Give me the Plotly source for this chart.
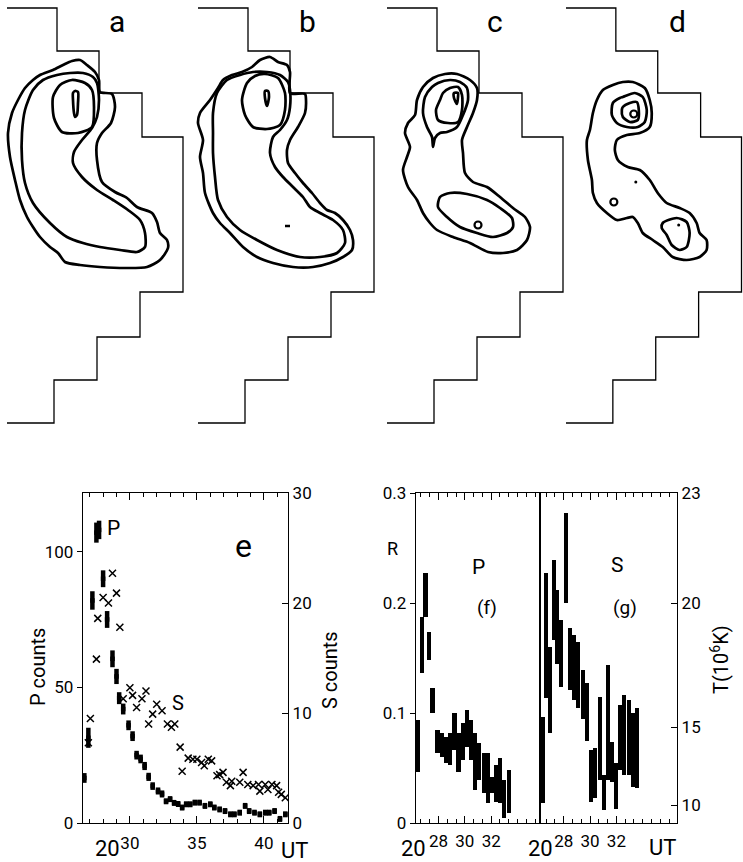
import plotly.graph_objects as go

FIG_W, FIG_H = 743, 862
FONT = "Liberation Sans Narrow, Roboto, Liberation Sans, sans-serif"

# ---------------- top row: images a-d (local panel units) ----------------
PANEL_LABELS = ["a", "b", "c", "d"]
PANEL_OFFSETS = [0, 191, 380, 559]

# edge of the field of view (staircase)
STAIR_X = [7, 57, 57, 99, 99, 142, 142, 183, 183, 140, 140, 97, 97, 54, 54, 7]
STAIR_Y = [8, 8, 51, 51, 93, 93, 137, 137, 292, 292, 337, 337, 380, 380, 423, 423]

A_OUTER = [(99, 80), (100, 92), (112, 94), (115, 107), (111, 123), (102, 133), (97, 143), (97, 160),
           (102, 182), (115, 192), (127, 198), (137, 207), (152, 213), (157, 222), (160, 233), (167, 240),
           (168, 248), (160, 260), (147, 267), (127, 268), (100, 267), (80, 265), (65, 262), (58, 253),
           (50, 247), (40, 237), (33, 227), (27, 217), (20, 200), (15, 180), (10, 157), (8, 133), (12, 113),
           (18, 100), (25, 88), (33, 80), (40, 75), (53, 70), (63, 65), (72, 61), (80, 60), (87, 65),
           (95, 72), (99, 80)]
A_MIDDLE = [(97, 83), (99, 100), (97, 117), (92, 128), (82, 140), (74, 152), (73, 163), (82, 177),
            (97, 190), (113, 200), (128, 210), (140, 220), (145, 233), (145, 247), (137, 252), (120, 250),
            (100, 247), (83, 243), (67, 237), (50, 223), (33, 203), (25, 183), (22, 160), (22, 133),
            (25, 110), (33, 90), (43, 80), (57, 75), (70, 73), (83, 73), (93, 77), (97, 83)]
A_INNER = [(72, 80), (85, 83), (92, 90), (94, 107), (92, 127), (78, 133), (62, 132), (54, 118),
           (53, 97), (60, 85), (72, 80)]
A_CORE = [(75, 91), (78, 92), (78, 103), (77, 115), (75, 117), (74, 113), (73, 100), (73, 93), (75, 91)]

B_OUTER = [(99, 93), (99, 72), (96, 65), (87, 62), (79, 57), (69, 60), (61, 67), (51, 72), (41, 75),
           (32, 80), (27, 88), (19, 100), (9, 113), (7, 123), (12, 140), (9, 157), (12, 173), (14, 193),
           (22, 213), (29, 223), (39, 233), (52, 247), (66, 257), (82, 263), (102, 267), (122, 267),
           (139, 263), (152, 257), (161, 250), (162, 240), (159, 230), (152, 220), (144, 213), (136, 210),
           (129, 203), (121, 193), (112, 183), (104, 173), (97, 163), (96, 150), (99, 140), (107, 127),
           (114, 113), (115, 100), (114, 94), (99, 93)]
B_MIDDLE = [(97, 82), (89, 75), (76, 72), (62, 72), (49, 75), (36, 80), (26, 93), (22, 113), (22, 133),
            (22, 153), (24, 177), (27, 200), (36, 217), (49, 230), (66, 240), (86, 250), (109, 257),
            (129, 257), (146, 253), (154, 243), (152, 230), (142, 220), (129, 213), (119, 207), (112, 197),
            (102, 187), (92, 177), (84, 167), (79, 153), (82, 137), (89, 130), (96, 120), (99, 107),
            (99, 90), (97, 82)]
B_INNER = [(74, 74), (87, 78), (94, 93), (94, 110), (89, 125), (76, 129), (62, 127), (54, 115),
           (51, 100), (56, 83), (64, 76), (74, 74)]
B_CORE = [(74, 91), (77, 91), (78, 97), (76, 106), (74, 98), (74, 91)]
B_DASH = [(94, 226), (99, 226)]

C_OUTER = [(77, 74), (90, 80), (97, 88), (97, 100), (93, 113), (87, 127), (82, 140), (83, 153), (85, 173),
           (93, 182), (107, 187), (120, 197), (133, 208), (145, 217), (150, 227), (147, 240), (137, 250),
           (123, 253), (108, 252), (90, 243), (73, 237), (57, 230), (50, 223), (43, 213), (37, 200),
           (28, 187), (23, 170), (27, 157), (30, 147), (25, 133), (28, 123), (35, 115), (37, 100),
           (43, 87), (53, 78), (65, 74), (77, 74)]
C_SECOND = [(58, 83), (70, 80), (80, 82), (87, 88), (88, 100), (83, 115), (77, 127), (67, 132), (60, 133),
            (55, 138), (53, 147), (52, 137), (47, 127), (43, 113), (45, 97), (52, 87), (58, 83)]
C_THIRD = [(70, 88), (78, 87), (82, 95), (82, 110), (78, 122), (68, 123), (58, 120), (56, 110), (60, 100),
           (63, 93), (70, 88)]
C_CORE = [(74, 93), (78, 93), (78, 97), (77, 104), (74, 98), (74, 93)]
C_LOWER = [(60, 197), (70, 193), (87, 194), (107, 200), (120, 208), (132, 218), (133, 227), (127, 233),
           (113, 237), (97, 233), (80, 227), (67, 217), (58, 207), (60, 197)]
C_RINGS = [(98, 225)]

D_OUTER = [(74, 82), (86, 88), (91, 100), (93, 113), (91, 127), (81, 133), (68, 135), (58, 140), (56, 150),
           (59, 160), (69, 167), (81, 170), (91, 180), (99, 193), (108, 203), (121, 208), (131, 213),
           (138, 223), (141, 233), (148, 240), (148, 250), (141, 257), (128, 260), (114, 257), (104, 247),
           (94, 240), (84, 233), (79, 223), (74, 217), (68, 218), (58, 220), (48, 213), (38, 203), (34, 193),
           (33, 180), (29, 160), (28, 140), (31, 130), (34, 113), (38, 100), (44, 90), (54, 85), (64, 82),
           (74, 82)]
D_SECOND = [(64, 97), (76, 93), (84, 97), (88, 110), (86, 122), (79, 127), (68, 127), (58, 123), (53, 115),
            (54, 103), (61, 98), (64, 97)]
D_THIRD = [(64, 107), (71, 103), (78, 102), (80, 110), (79, 120), (71, 122), (64, 117), (63, 110), (64, 107)]
D_LOWER = [(104, 223), (118, 218), (128, 222), (131, 233), (128, 247), (121, 250), (113, 245), (108, 235),
           (103, 228), (104, 223)]
D_RINGS = [(75, 114), (55, 202)]
D_DOTS = [(120, 225), (77, 182)]

PANEL_CONTOURS = [
    [A_OUTER, A_MIDDLE, A_INNER, A_CORE],
    [B_OUTER, B_MIDDLE, B_INNER, B_CORE, B_DASH],
    [C_OUTER, C_SECOND, C_THIRD, C_CORE, C_LOWER],
    [D_OUTER, D_SECOND, D_THIRD, D_LOWER],
]
PANEL_RINGS = [[], [], C_RINGS, D_RINGS]
PANEL_DOTS = [[], [], [], D_DOTS]

# ---------------- panel e: counts vs time ----------------
E_P_T = [26.6, 26.9, 27.2, 27.5, 27.7, 28.0, 28.3, 28.7, 29.0, 29.2,
         29.5, 29.9, 30.2, 30.5, 30.8, 31.1, 31.4, 31.7, 32.1, 32.4,
         32.7, 33.0, 33.3, 33.6, 33.9, 34.2, 34.5, 34.85, 35.2, 35.6,
         36.0, 36.3, 36.7, 37.1, 37.5, 37.8, 38.2, 38.6, 38.9, 39.3,
         39.7, 40.1, 40.4, 40.8, 41.2, 41.6]
E_P = [16.6, 31.4, 82, 107, 108, 90, 75, 60.5, 54, 46,
       42, 36, 32, 25, 23.6, 21, 17, 13.6, 11.8, 10.7,
       8, 8.8, 7.4, 7, 5.7, 6.9, 6.9, 7.5, 7.5, 6.3,
       6.9, 5.7, 5.0, 4.4, 3.2, 3.2, 3.8, 6.3, 4.4, 3.8,
       3.2, 3.8, 3.8, 4.4, 1.5, 3.2]
E_P_ERR = [1.8, 3.7, 3.4, 3.7, 3.4, 3.1, 3.1, 3.1, 2.8, 2.2,
           2.0, 1.8, 1.8, 1.6, 1.6, 1.5, 1.5, 1.4, 1.3, 1.3,
           1.1, 1.1, 1.1, 1.1, 1.1, 1.1, 1.1, 1.1, 1.1, 1.1,
           1.1, 1.1, 1.1, 1.1, 1.1, 1.1, 1.1, 1.1, 1.1, 1.1,
           1.1, 1.1, 1.1, 1.1, 1.1, 1.1]
E_S_T = [26.9, 27.05, 27.5, 27.6, 28.0, 28.4, 28.7, 29.0, 29.25, 29.5,
         30.0, 30.2, 30.5, 30.9, 31.2, 31.4, 31.7, 32.0, 32.4, 32.8,
         33.1, 33.35, 33.75, 33.9, 34.35, 34.7, 35.0, 35.35, 35.55, 35.85,
         36.1, 36.5, 36.7, 36.95, 37.2, 37.5, 37.6, 38.2, 38.45, 38.8,
         39.2, 39.6, 39.7, 40.1, 40.3, 40.6, 40.95, 41.1, 41.3, 41.6]
E_S = [7.3, 9.5, 14.9, 18.6, 20.5, 20.0, 22.7, 20.9, 17.8, 11.3,
       12.3, 11.6, 10.5, 11.3, 12.0, 9.0, 9.9, 10.8, 10.2, 9.0,
       8.7, 9.0, 6.9, 4.7, 5.9, 5.8, 5.8, 5.5, 5.2, 5.8,
       5.65, 4.3, 4.4, 4.6, 3.7, 3.4, 3.8, 3.7, 4.6, 3.5,
       3.4, 3.5, 2.9, 3.5, 3.05, 3.5, 3.4, 2.8, 2.6, 2.3]
E_X_TICKS = [30, 35, 40]
E_P_TICKS = [0, 50, 100]
E_S_TICKS = [0, 10, 20, 30]

# ---------------- panels f, g: ratio R vs time ----------------
F_T = [26.46, 26.74, 27.02, 27.30, 27.55, 27.93, 28.26, 28.56, 28.89, 29.22, 29.52, 29.83,
       30.15, 30.45, 30.78, 31.08, 31.42, 31.74, 32.05, 32.35, 32.67, 33.0, 33.33]
F_HI = [0.094, 0.187, 0.227, 0.174, 0.123, 0.085, 0.082, 0.078, 0.082, 0.100, 0.082, 0.091,
        0.103, 0.094, 0.082, 0.073, 0.064, 0.064, 0.042, 0.053, 0.059, 0.039, 0.048]
F_LO = [0.046, 0.136, 0.187, 0.148, 0.100, 0.064, 0.060, 0.055, 0.053, 0.066, 0.046, 0.057,
        0.069, 0.057, 0.030, 0.039, 0.027, 0.018, 0.027, 0.019, 0.018, 0.005, 0.009]
G_T = [26.44, 26.67, 26.97, 27.27, 27.5, 27.8, 28.14, 28.48, 28.79, 29.09, 29.47, 29.77,
       30.08, 30.38, 30.76, 31.06, 31.36, 31.67, 31.97, 32.27, 32.58, 32.95, 33.26, 33.56]
G_HI = [0.096, 0.227, 0.16, 0.239, 0.212, 0.185, 0.282, 0.177, 0.171, 0.165, 0.139, 0.127,
        0.066, 0.068, 0.115, 0.044, 0.144, 0.074, 0.055, 0.107, 0.116, 0.112, 0.1, 0.105]
G_LO = [0.018, 0.114, 0.082, 0.166, 0.145, 0.124, 0.2, 0.121, 0.112, 0.105, 0.095, 0.075,
        0.019, 0.023, 0.039, 0.012, 0.039, 0.037, 0.013, 0.048, 0.044, 0.044, 0.033, 0.032]
R_TICKS = [0, 0.1, 0.2, 0.3]
R_TICK_TEXT = ["0", "0.1", "0.2", "0.3"]
FG_X_TICKS = [28, 30, 32]
T_LABELS = ["10", "15", "20", "23"]
T_AT_R = [0.016, 0.087, 0.2, 0.3]


def fx(px):
    return px / FIG_W


def fy(py):
    return 1 - py / FIG_H


fig = go.Figure()

# ---- top panels ----
for i in range(4):
    xa, ya = f"x{i + 1}", f"y{i + 1}"
    fig.add_trace(go.Scatter(x=STAIR_X, y=STAIR_Y, xaxis=xa, yaxis=ya, mode="lines",
                             line=dict(color="black", width=1.3), hoverinfo="skip", showlegend=False))
    for cont in PANEL_CONTOURS[i]:
        fig.add_trace(go.Scatter(x=[p[0] for p in cont], y=[p[1] for p in cont], xaxis=xa, yaxis=ya,
                                 mode="lines", line=dict(color="black", width=2.7, shape="spline", smoothing=0.7),
                                 hoverinfo="skip", showlegend=False))
    if PANEL_RINGS[i]:
        fig.add_trace(go.Scatter(x=[p[0] for p in PANEL_RINGS[i]], y=[p[1] for p in PANEL_RINGS[i]],
                                 xaxis=xa, yaxis=ya, mode="markers",
                                 marker=dict(symbol="circle-open", size=7, color="black", line=dict(width=2.2)),
                                 hoverinfo="skip", showlegend=False))
    if PANEL_DOTS[i]:
        fig.add_trace(go.Scatter(x=[p[0] for p in PANEL_DOTS[i]], y=[p[1] for p in PANEL_DOTS[i]],
                                 xaxis=xa, yaxis=ya, mode="markers",
                                 marker=dict(symbol="circle", size=3, color="black"),
                                 hoverinfo="skip", showlegend=False))

# ---- panel e ----
fig.add_trace(go.Scatter(x=E_P_T, y=E_P, xaxis="x5", yaxis="y5", mode="markers",
                         marker=dict(symbol="square", size=4.5, color="black"),
                         error_y=dict(type="data", array=E_P_ERR, color="black", thickness=4.5, width=0),
                         showlegend=False, name="P"))
fig.add_trace(go.Scatter(x=E_S_T, y=E_S, xaxis="x5", yaxis="y6", mode="markers",
                         marker=dict(symbol="x-thin", size=7, color="black", line=dict(width=1.5, color="black")),
                         showlegend=False, name="S"))

# ---- panels f, g ----
fig.add_trace(go.Bar(x=F_T, base=F_LO, y=[h - l for h, l in zip(F_HI, F_LO)], width=0.31,
                     xaxis="x7", yaxis="y7", marker=dict(color="black", line=dict(width=0)),
                     showlegend=False, name="P ratio"))
fig.add_trace(go.Bar(x=G_T, base=G_LO, y=[h - l for h, l in zip(G_HI, G_LO)], width=0.31,
                     xaxis="x8", yaxis="y8", marker=dict(color="black", line=dict(width=0)),
                     showlegend=False, name="S ratio"))

layout = dict(
    template="none",
    width=FIG_W, height=FIG_H, margin=dict(l=0, r=0, t=0, b=0, pad=0, autoexpand=False),
    paper_bgcolor="white", plot_bgcolor="rgba(0,0,0,0)",
    font=dict(family=FONT, color="black", size=17),
    showlegend=False, bargap=0,
)

for i, off in enumerate(PANEL_OFFSETS):
    layout[f"xaxis{i + 1}"] = dict(domain=[fx(off), min(fx(off + 184.5), 1.0)], range=[0, 184.5],
                                   visible=False, anchor=f"y{i + 1}", fixedrange=True, automargin=False)
    layout[f"yaxis{i + 1}"] = dict(domain=[fy(430), 1.0], range=[430, 0], visible=False,
                                   anchor=f"x{i + 1}", fixedrange=True, automargin=False)

BOT_DOM = [fy(823), fy(493)]
axis_common = dict(showline=True, linecolor="black", linewidth=1.4, showgrid=False, zeroline=False,
                   automargin=False, tickcolor="black", tickwidth=1.3,
                   tickfont=dict(size=17, family=FONT, color="black"))

layout["xaxis5"] = dict(axis_common, domain=[fx(83), fx(288)], range=[26.5, 41.8], anchor="y5",
                        mirror="ticks", ticks="inside", ticklen=7, tickvals=E_X_TICKS,
                        ticktext=[str(v) for v in E_X_TICKS], ticklabelstandoff=4,
                        minor=dict(ticks="inside", dtick=1, tick0=27, ticklen=4, tickcolor="black", tickwidth=1.2))
layout["yaxis5"] = dict(axis_common, domain=BOT_DOM, range=[0, 121.6], anchor="x5",
                        ticks="outside", ticklen=5, tickvals=E_P_TICKS, ticktext=[str(v) for v in E_P_TICKS])
layout["yaxis6"] = dict(axis_common, domain=BOT_DOM, range=[0, 30], anchor="x5", overlaying="y5",
                        side="right", ticks="inside", ticklen=6, tickvals=E_S_TICKS,
                        ticktext=[str(v) for v in E_S_TICKS])

layout["xaxis7"] = dict(axis_common, domain=[fx(416), fx(540)], range=[26.3, 35.7], anchor="y7",
                        mirror="ticks", ticks="inside", ticklen=7, tickvals=FG_X_TICKS,
                        ticktext=[str(v) for v in FG_X_TICKS], ticklabelstandoff=2,
                        minor=dict(ticks="inside", dtick=2 / 3, tick0=28, ticklen=4, tickcolor="black", tickwidth=1.2))
layout["yaxis7"] = dict(axis_common, domain=BOT_DOM, range=[0, 0.3], anchor="x7", mirror=True,
                        ticks="outside", ticklen=5, tickvals=R_TICKS, ticktext=R_TICK_TEXT)
layout["xaxis8"] = dict(axis_common, domain=[fx(540), fx(677)], range=[26.2, 36.6], anchor="y8",
                        mirror="ticks", ticks="inside", ticklen=7, tickvals=FG_X_TICKS,
                        ticktext=[str(v) for v in FG_X_TICKS], ticklabelstandoff=2,
                        minor=dict(ticks="inside", dtick=2 / 3, tick0=28, ticklen=4, tickcolor="black", tickwidth=1.2))
layout["yaxis8"] = dict(axis_common, domain=BOT_DOM, range=[0, 0.3], anchor="x8", mirror=True,
                        side="right", ticks="inside", ticklen=6, tickvals=T_AT_R, ticktext=T_LABELS)

fig.update_layout(**layout)


def note(text, px, py, size, angle=0):
    fig.add_annotation(text=text, x=fx(px), y=fy(py), xref="paper", yref="paper", showarrow=False,
                       xanchor="center", yanchor="middle", textangle=angle,
                       font=dict(size=size, family=FONT, color="black"))


for lab, xo in zip(PANEL_LABELS, [117, 307, 495, 677]):
    note(lab, xo, 22, 30)

note("P", 113, 528, 21)
note("S", 178, 703, 20)
note("e", 243, 546, 32)
note("P counts", 38, 667, 20, -90)
note("S counts", 330, 670, 20, -90)
note("20", 107, 848, 22)
note("UT", 294, 850, 22)

note("R", 392, 548, 18)
note("P", 478, 567, 21)
note("(f)", 487, 607, 19)
note("S", 617, 565, 21)
note("(g)", 625, 607, 19)
note("20", 413, 848, 22)
note("20", 540, 848, 22)
note("UT", 662, 847, 22)
note("T(10<sup>6</sup>K)", 720, 660, 20, -90)

fig.write_html("out.html", config={"displayModeBar": False},
               post_script="document.body.style.margin='0';document.body.style.overflow='hidden';")
